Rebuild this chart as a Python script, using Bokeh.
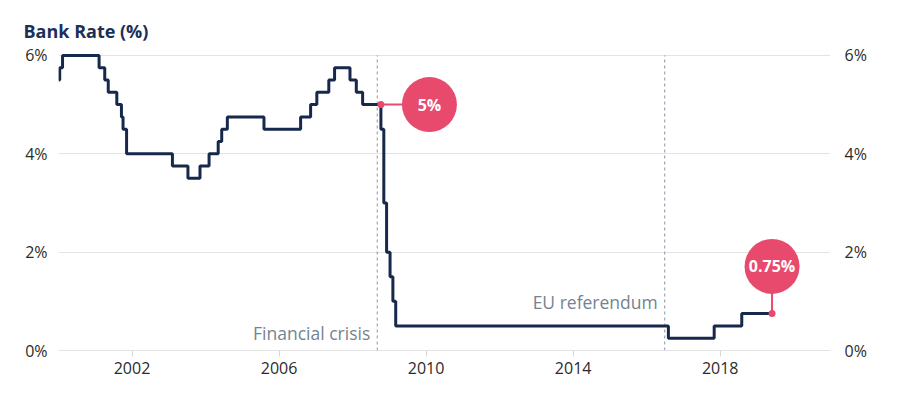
from bokeh.plotting import figure
from bokeh.models import FixedTicker, LinearAxis, Range1d
from bokeh.embed import file_html
from bokeh.resources import INLINE
from bokeh.core.properties import value

# Bank Rate changes (decimal year of change, new rate %)
dates = [2000.0, 2000.033, 2000.11, 2001.104, 2001.258, 2001.353, 2001.586, 2001.712,
         2001.756, 2001.852, 2003.099, 2003.521, 2003.849, 2004.096, 2004.344, 2004.44,
         2004.593, 2005.589, 2006.586, 2006.858, 2007.027, 2007.353, 2007.51, 2007.929,
         2008.101, 2008.273, 2008.77, 2008.849, 2008.925, 2009.019, 2009.096, 2009.173,
         2016.59, 2017.836, 2018.586, 2019.41]
rates = [5.5, 5.75, 6.0, 5.75, 5.5, 5.25, 5.0, 4.75,
         4.5, 4.0, 3.75, 3.5, 3.75, 4.0, 4.25, 4.5,
         4.75, 4.5, 4.75, 5.0, 5.25, 5.5, 5.75, 5.5,
         5.25, 5.0, 4.5, 3.0, 2.0, 1.5, 1.0, 0.5,
         0.25, 0.5, 0.75, 0.75]

x_ticks = [2002, 2006, 2010, 2014, 2018]
y_ticks = [0, 2, 4, 6]
y_tick_labels = ["0%", "2%", "4%", "6%"]

event_x = [2008.67, 2016.49]
event_labels = ["Financial crisis", "EU referendum"]
event_label_y = [0.35, 0.98]

callout_x = [2008.77, 2019.41]
callout_y = [5.0, 0.75]
callout_labels = ["5%", "0.75%"]
bubble_x = [2010.09, 2019.41]
bubble_y = [5.0, 1.71]

NAVY = "#16294c"
PINK = "#e84a6d"
FONT = "Open Sans"

p = figure(width=893, height=399, output_backend="svg", toolbar_location=None,
           x_range=Range1d(2000, 2021), y_range=Range1d(0, 6.1),
           min_border_left=58, min_border_right=63, min_border_top=50, min_border_bottom=49)
p.outline_line_color = None
p.background_fill_color = "white"
p.border_fill_color = "white"

p.title.text = "Bank Rate (%)"
p.title.text_font = FONT
p.title.text_font_size = "18px"
p.title.text_font_style = "bold"
p.title.text_color = "#1b3058"
p.title.align = "left"
p.title.offset = -35
p.title.standoff = 15

p.xgrid.visible = False
p.ygrid.ticker = FixedTicker(ticks=y_ticks)
p.ygrid.grid_line_color = "#e3e3e3"
p.ygrid.grid_line_width = 1

# x axis
xa = p.xaxis[0]
xa.ticker = FixedTicker(ticks=x_ticks)
xa.axis_line_color = "#e3e3e3"
xa.major_tick_line_color = "#d6d6d6"
xa.major_tick_out = 6
xa.major_tick_in = 0
xa.minor_tick_line_color = None
xa.major_label_standoff = 5
xa.major_label_text_font = FONT
xa.major_label_text_font_size = "16px"
xa.major_label_text_color = "#2b2b2b"

overrides = {t: l for t, l in zip(y_ticks, y_tick_labels)}

def style_y(ax, standoff):
    ax.ticker = FixedTicker(ticks=y_ticks)
    ax.major_label_overrides = overrides
    ax.axis_line_color = None
    ax.major_tick_line_color = None
    ax.minor_tick_line_color = None
    ax.major_tick_out = 0
    ax.major_tick_in = 0
    ax.major_label_standoff = standoff
    ax.major_label_text_font = FONT
    ax.major_label_text_font_size = "16px"
    ax.major_label_text_color = "#2b2b2b"

style_y(p.yaxis[0], 11)
ra = LinearAxis()
style_y(ra, 14)
p.add_layout(ra, "right")

# event markers
p.segment(x0=event_x, y0=[0] * len(event_x), x1=event_x, y1=[6] * len(event_x),
          line_color="#8a97a5", line_width=1, line_dash="3 3")
p.text(x=event_x, y=event_label_y, text=event_labels, x_offset=-7,
       text_align="right", text_baseline="alphabetic",
       text_font=value(FONT), text_font_size="17.5px", text_color="#75838f")

# bank rate
p.step(dates, rates, mode="after", line_color=NAVY, line_width=3)

# callouts
p.segment(x0=callout_x, y0=callout_y, x1=bubble_x, y1=bubble_y,
          line_color=PINK, line_width=2)
p.scatter(callout_x, callout_y, size=7, fill_color=PINK, line_color=None)
p.scatter(bubble_x, bubble_y, size=55, fill_color=PINK, line_color=None)
p.text(x=bubble_x, y=bubble_y, text=callout_labels, text_align="center",
       text_baseline="middle", text_font=value(FONT), text_font_size="16px",
       text_font_style="bold", text_color="white")

open("out.html", "w").write(file_html(p, INLINE))
